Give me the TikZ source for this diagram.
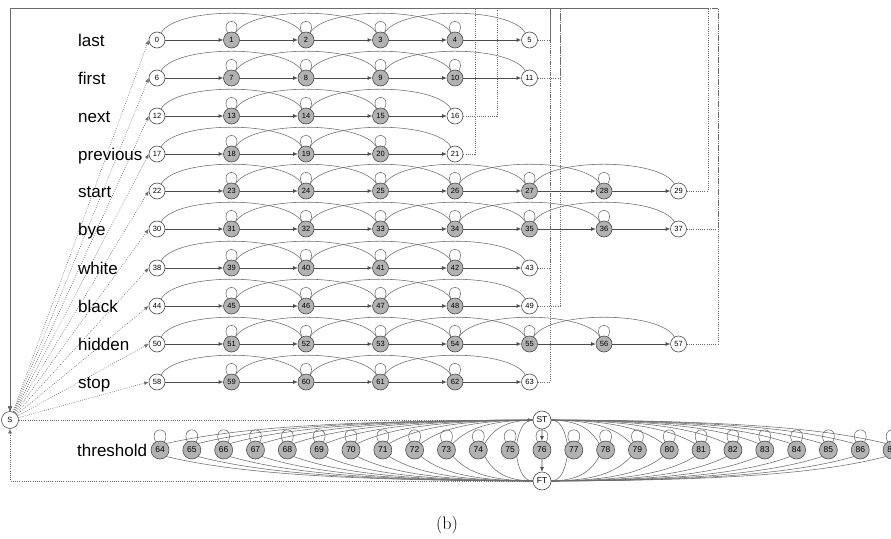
\documentclass[tikz,border=0pt]{standalone}
\usepackage{fontspec}
\setsansfont{Liberation Sans}
\usetikzlibrary{arrows.meta,calc}
\definecolor{ln}{gray}{0.30}
\definecolor{lc}{gray}{0.42}
\definecolor{fl}{gray}{0.70}
\tikzset{
  st/.style={circle,draw=ln,line width=0.6pt,minimum size=16pt,inner sep=0pt,fill=white,font=\sffamily\fontsize{7.5}{7.5}\selectfont},
  tst/.style={st,fill=fl,minimum size=18pt,font=\sffamily\fontsize{8.5}{8.5}\selectfont},
  lab/.style={anchor=base west,inner sep=0pt,font=\sffamily\fontsize{17}{17}\selectfont},
  tip/.style={-{Latex[length=4.5pt,width=3.8pt]}},
  tr/.style={draw=ln,line width=0.6pt,tip},
  ar/.style={draw=lc,line width=0.55pt},
  dt/.style={draw=lc,line width=0.6pt,dash pattern=on 0.8pt off 1.4pt},
}
\begin{document}
\begin{tikzpicture}[x=1pt,y=1pt]
\useasboundingbox (0,0) rectangle (891,-538);
\node[st,minimum size=17pt] (S) at (10,-420) {S};
\foreach \yy/\lab/\f/\n/\rx in {40/last/0/6/550,78/first/6/6/560,116/next/12/5/497,154/previous/17/5/475,191/start/22/8/708,229/bye/30/8/718,268/white/38/6/550,306/black/44/6/560,344/hidden/50/8/718,382/stop/58/6/550}{
  \node[lab] (lab\f) at (78,-\yy-6.5) {\lab};
  \pgfmathtruncatemacro{\nl}{\n-1}
  \foreach \k in {0,...,\nl}{
    \pgfmathtruncatemacro{\num}{\f+\k}
    \ifnum\k=0 \def\fc{white}\else\ifnum\k=\nl \def\fc{white}\else\def\fc{fl}\fi\fi
    \node[st,fill=\fc] (n\num) at (157+74.5*\k,-\yy) {\num};
  }
  \pgfmathtruncatemacro{\nm}{\n-2}
  \pgfmathtruncatemacro{\nt}{\n-3}
  \foreach \k in {0,...,\nm}{
    \pgfmathtruncatemacro{\a}{\f+\k}
    \pgfmathtruncatemacro{\b}{\a+1}
    \draw[tr] (n\a) -- (n\b);
  }
  \foreach \k in {0,...,\nt}{
    \pgfmathtruncatemacro{\a}{\f+\k}
    \pgfmathtruncatemacro{\c}{\a+2}
    \draw[ar] (n\a.60) to[out=60,in=120,looseness=0.55] (n\c.120);
  }
  \foreach \k in {1,...,\nm}{
    \pgfmathtruncatemacro{\a}{\f+\k}
    \draw[ar] (n\a.118) .. controls +(-8,15) and +(8,15) .. (n\a.62);
  }
  \pgfmathtruncatemacro{\e}{\f+\n-1}
  \draw[dt,tip] (n\e.east) -- (\rx,-\yy) |- (10,-8) -- (S.north);
  \draw[dt,tip] (S) -- (n\f.west);
}
% threshold model
\node[lab] (labT) at (77,-456.5) {threshold};
\node[st,minimum size=18pt,font=\sffamily\fontsize{8.5}{8.5}\selectfont] (ST) at (542,-420) {ST};
\node[st,minimum size=18pt,font=\sffamily\fontsize{8.5}{8.5}\selectfont] (FT) at (542,-481) {FT};
\foreach \i in {64,...,87}{
  \node[tst] (t\i) at (160+31.83*\i-31.83*64,-450) {\i};
  \draw[ar] (t\i.118) .. controls +(-8,16) and +(8,16) .. (t\i.62);
}
\foreach \i in {64,...,75}{
  \pgfmathsetmacro{\xi}{160+31.83*(\i-64)}
  \pgfmathsetmacro{\dd}{533-\xi-6.4}
  \draw[ar] (ST.west) .. controls (533-0.5*\dd,-420.5) and (\xi+6.4+0.2*\dd,-427) .. (t\i.north east);
  \draw[ar] (t\i.south east) .. controls (\xi+6.4+0.2*\dd,-474) and (533-0.5*\dd,-480.5) .. (FT.west);
}
\foreach \i in {77,...,87}{
  \pgfmathsetmacro{\xi}{160+31.83*(\i-64)}
  \pgfmathsetmacro{\dd}{\xi-6.4-551}
  \draw[ar] (ST.east) .. controls (551+0.5*\dd,-420.5) and (\xi-6.4-0.2*\dd,-427) .. (t\i.north west);
  \draw[ar] (t\i.south west) .. controls (\xi-6.4-0.2*\dd,-474) and (551+0.5*\dd,-480.5) .. (FT.east);
}
\draw[tr] (ST) -- (t76);
\draw[tr] (t76) -- (FT);
\draw[dt,tip] (S.east) -- (ST.west);
\draw[dt,tip] (FT.west) -| (S.south);
\node[anchor=base,font=\fontsize{18}{18}\selectfont] (cap) at (447,-529) {(b)};
\end{tikzpicture}
\end{document}
